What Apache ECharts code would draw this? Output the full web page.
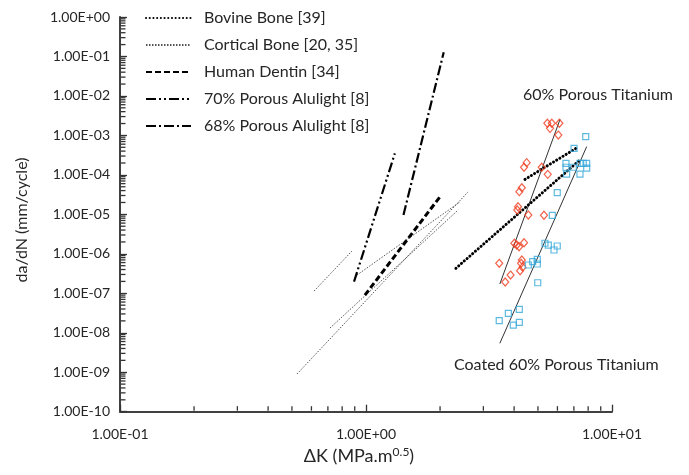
<!DOCTYPE html>
<html><head><meta charset="utf-8">
<script src="https://cdn.jsdelivr.net/npm/echarts@6/dist/echarts.min.js"></script>
<style>html,body{margin:0;padding:0;background:#fff}#c{width:689px;height:475px}</style>
</head><body><div id="c"></div>
<script>
// ---- axis ticks ----
const xMajorTicks = [0.1, 1, 10];
const yMajorTicks = [1e-10, 1e-9, 1e-8, 1e-7, 1e-6, 1e-5, 1e-4, 1e-3, 1e-2, 1e-1, 1];
const minorMultipliers = [2, 3, 4, 5, 6, 7, 8, 9];

// ---- literature curves (segments of [ΔK, da/dN]) ----
const bovineBone = [
  [[2.32, 4.3e-7], [7.41, 2.4e-4]],
  [[4.43, 7.7e-5], [7.14, 4.7e-4]]
];
const corticalBone = [
  [[0.615, 1.14e-7], [0.877, 1.18e-6]],
  [[0.919, 2.9e-7], [2.41, 2.06e-5]],
  [[0.524, 9.0e-10], [2.60, 3.7e-5]],
  [[0.714, 1.32e-8], [2.37, 1.29e-5]]
];
const humanDentin = [
  [[0.99, 9.0e-8], [2.0, 2.8e-5]]
];
const alulight70 = [
  [[0.894, 1.97e-7], [1.31, 3.5e-4]]
];
const alulight68 = [
  [[1.42, 9.6e-6], [2.07, 0.128]]
];

// ---- this work ----
const porousTi60 = [
  [5.46, 2.03e-3], [5.69, 2.03e-3], [5.60, 1.51e-3], [6.11, 2.03e-3], [6.05, 1.02e-3],
  [4.50, 2.04e-4], [4.39, 1.56e-4], [5.18, 1.56e-4], [5.48, 1.03e-4], [4.30, 4.73e-5],
  [4.20, 3.75e-5], [4.15, 1.56e-5], [4.12, 1.29e-5], [4.57, 9.6e-6], [5.29, 9.5e-6],
  [4.01, 1.85e-6], [4.10, 1.67e-6], [4.19, 1.51e-6], [4.39, 1.91e-6], [4.30, 6.97e-7],
  [4.27, 5.75e-7], [3.48, 5.75e-7], [4.23, 3.73e-7], [4.33, 4.6e-7], [3.87, 2.90e-7],
  [3.68, 1.93e-7]
];
const coatedTi60 = [
  [7.82, 9.27e-4], [7.01, 4.71e-4], [6.50, 1.96e-4], [6.50, 1.56e-4], [6.96, 1.56e-4],
  [7.41, 1.96e-4], [7.64, 1.96e-4], [7.89, 1.96e-4], [7.89, 1.49e-4], [6.54, 1.05e-4],
  [7.41, 1.05e-4], [5.99, 3.54e-5], [5.72, 9.46e-6], [5.34, 1.85e-6], [5.51, 1.67e-6],
  [5.99, 1.58e-6], [5.81, 1.25e-6], [4.97, 7.27e-7], [4.76, 6.31e-7], [4.57, 5.21e-7],
  [4.97, 5.52e-7], [4.99, 1.85e-7], [3.48, 2.02e-8], [3.79, 3.11e-8], [3.97, 1.57e-8],
  [4.20, 1.84e-8], [4.20, 3.93e-8]
];
const porousTi60Fit = [[3.50, 1.72e-7], [6.15, 2.56e-3]];
const coatedTi60Fit = [[3.50, 5.4e-9], [7.89, 5.2e-4]];

const legendNames = ['Bovine Bone [39]', 'Cortical Bone [20, 35]', 'Human Dentin [34]',
  '70% Porous Alulight [8]', '68% Porous Alulight [8]'];

const FONT = 'Lato, "Open Sans", sans-serif';
const TXT = '#262626';
const AXIS = '#404040';
const TICK = '#333';

function sciLabel(v) {
  const e = Math.round(Math.log10(v));
  return '1.00E' + (e < 0 ? '-' : '+') + String(Math.abs(e)).padStart(2, '0');
}

function lineSeries(name, segments, lineStyle) {
  return segments.map(seg => ({
    name, type: 'line', data: seg, symbol: 'none', silent: true,
    lineStyle: Object.assign({ color: '#000' }, lineStyle),
    itemStyle: { color: lineStyle.color || '#000' },
    z: 3
  }));
}

const xMinor = [], yMinor = [];
[-1, 0].forEach(d => minorMultipliers.forEach(m => xMinor.push(m * Math.pow(10, d))));
for (let d = -10; d < 0; d++) minorMultipliers.forEach(m => yMinor.push(m * Math.pow(10, d)));

function tickSeries(values, axis, len) {
  return {
    type: 'custom', silent: true, clip: false, z: 10,
    data: values.map(v => axis === 'x' ? [v, 1e-10] : [0.1, v]),
    encode: { x: 0, y: 1 },
    renderItem: (params, api) => {
      const p = api.coord([api.value(0), api.value(1)]);
      const shape = axis === 'x'
        ? { x1: p[0], y1: p[1] - 1, x2: p[0], y2: p[1] - 1 - len }
        : { x1: p[0] + 1, y1: p[1], x2: p[0] + 1 + len, y2: p[1] };
      return { type: 'line', shape: shape, style: { stroke: TICK, lineWidth: 1.3 } };
    }
  };
}

const series = [].concat(
  lineSeries(legendNames[0], bovineBone, { width: 3, type: [0.1, 3.6], cap: 'round' }),
  lineSeries(legendNames[1], corticalBone, { width: 1, type: [1.5, 1.5], color: '#555' }),
  lineSeries(legendNames[2], humanDentin, { width: 3, type: [6, 3] }),
  lineSeries(legendNames[3], alulight70, { width: 2.2, type: [10, 3, 2, 3, 2, 3] }),
  lineSeries(legendNames[4], alulight68, { width: 2.2, type: [10, 3, 2, 3] }),
  [
    { name: 'fit60', type: 'line', data: porousTi60Fit, symbol: 'none', silent: true,
      lineStyle: { color: '#333', width: 1 }, z: 2 },
    { name: 'fitCoated', type: 'line', data: coatedTi60Fit, symbol: 'none', silent: true,
      lineStyle: { color: '#333', width: 1 }, z: 2 },
    { name: '60% Porous Titanium', type: 'scatter', data: porousTi60, symbol: 'diamond',
      symbolSize: [7, 8], itemStyle: { color: 'rgba(255,255,255,0)', borderColor: '#ef3c1e', borderWidth: 1.2 }, z: 4 },
    { name: 'Coated 60% Porous Titanium', type: 'scatter', data: coatedTi60, symbol: 'rect',
      symbolSize: 6, itemStyle: { color: 'rgba(255,255,255,0)', borderColor: '#36a8d8', borderWidth: 1.2 }, z: 4 },
    tickSeries(xMinor, 'x', 4.5),
    tickSeries(yMinor, 'y', 4.5)
  ]
);

const chart = echarts.init(document.getElementById('c'), null, { renderer: 'canvas' });
chart.setOption({
  animation: false,
  backgroundColor: '#fff',
  textStyle: { fontFamily: FONT },
  grid: { left: 120, top: 17, right: 77, bottom: 63.3, containLabel: false },
  legend: {
    data: legendNames, orient: 'vertical', left: 140, top: 5,
    itemWidth: 45, itemHeight: 14, itemGap: 11,
    itemStyle: { opacity: 0 },
    textStyle: { fontFamily: FONT, fontSize: 16, color: TXT, padding: [0, 0, 0, 8] },
    selectedMode: false
  },
  xAxis: {
    type: 'log', logBase: 10, min: 0.1, max: 10, interval: 1,
    axisLine: { show: true, lineStyle: { color: AXIS, width: 2 } },
    axisTick: { show: true, inside: true, length: 7, lineStyle: { color: TICK, width: 1.3 } },
    splitLine: { show: false },
    axisLabel: { formatter: sciLabel, fontFamily: FONT, fontSize: 14, color: TXT, margin: 16 }
  },
  yAxis: {
    type: 'log', logBase: 10, min: 1e-10, max: 1, interval: 1,
    axisLine: { show: true, lineStyle: { color: AXIS, width: 2 } },
    axisTick: { show: true, inside: true, length: 7, lineStyle: { color: TICK, width: 1.3 } },
    splitLine: { show: false },
    axisLabel: { formatter: sciLabel, fontFamily: FONT, fontSize: 14, color: TXT, margin: 10 }
  },
  graphic: [
    { type: 'text', x: 22, y: 220, rotation: Math.PI / 2,
      style: { text: 'da/dN (mm/cycle)', align: 'center', verticalAlign: 'middle',
        font: '16px ' + FONT, fill: TXT } },
    { type: 'text', x: 359, y: 456,
      style: { text: '{a|ΔK (MPa.m}{s|0.5}{a|)}', align: 'center', verticalAlign: 'middle', fill: TXT,
        rich: { a: { fontFamily: FONT, fontSize: 18, lineHeight: 20, fill: TXT },
                s: { fontFamily: FONT, fontSize: 12, lineHeight: 12, verticalAlign: 'top', fill: TXT } } } },
    { type: 'text', x: 523, y: 95,
      style: { text: '60% Porous Titanium', align: 'left', verticalAlign: 'middle',
        font: '16px ' + FONT, fill: TXT } },
    { type: 'text', x: 454, y: 365,
      style: { text: 'Coated 60% Porous Titanium', align: 'left', verticalAlign: 'middle',
        font: '16px ' + FONT, fill: TXT } }
  ],
  series
});
</script></body></html>
